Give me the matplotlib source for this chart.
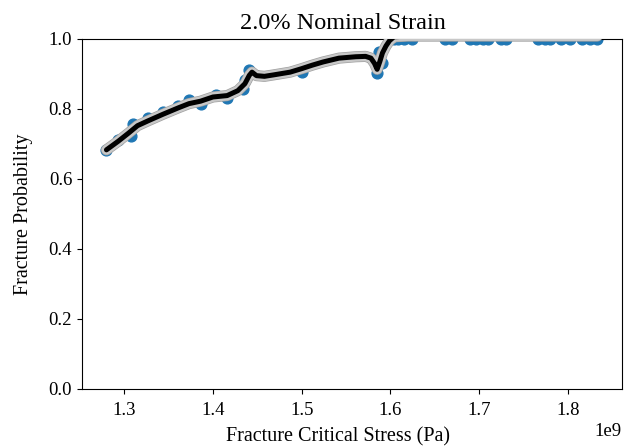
import matplotlib
matplotlib.use("Agg")
import matplotlib.pyplot as plt
import matplotlib.patheffects as pe
import numpy as np

plt.rcParams['font.family'] = ['Liberation Serif', 'DejaVu Serif']

title = "2.0% Nominal Strain"
xlabel = "Fracture Critical Stress (Pa)"
ylabel = "Fracture Probability"

# observed points (stress in GPa units, scaled by 1e9 below)
stress_pts = [1.280, 1.293, 1.308, 1.310, 1.327, 1.344, 1.361, 1.373, 1.386,
              1.403, 1.416, 1.434, 1.436, 1.441, 1.500, 1.585, 1.587, 1.590,
              1.604, 1.609, 1.615, 1.624, 1.662, 1.669, 1.690, 1.696, 1.704,
              1.710, 1.725, 1.730, 1.766, 1.774, 1.780, 1.792, 1.802, 1.816,
              1.825, 1.833]
prob_pts = [0.683, 0.711, 0.722, 0.758, 0.774, 0.791, 0.809, 0.824, 0.813,
            0.840, 0.831, 0.856, 0.883, 0.910, 0.904, 0.903, 0.963, 0.932,
            1.0, 1.0, 1.0, 1.0, 1.0, 1.0, 1.0, 1.0, 1.0,
            1.0, 1.0, 1.0, 1.0, 1.0, 1.0, 1.0, 1.0, 1.0,
            1.0, 1.0]

# fitted curve
fit_x = [1.280, 1.293, 1.305, 1.315, 1.327, 1.344, 1.361, 1.373, 1.386, 1.400,
         1.416, 1.428, 1.436, 1.441, 1.444, 1.449, 1.458, 1.468, 1.487, 1.500,
         1.512, 1.524, 1.542, 1.561, 1.572, 1.578, 1.582, 1.585, 1.588, 1.591,
         1.595, 1.599, 1.604, 1.620, 1.700, 1.780, 1.833]
fit_y = [0.683, 0.707, 0.731, 0.752, 0.766, 0.785, 0.803, 0.815, 0.822, 0.834,
         0.838, 0.852, 0.872, 0.896, 0.905, 0.895, 0.893, 0.897, 0.905, 0.915,
         0.925, 0.934, 0.945, 0.949, 0.950, 0.945, 0.930, 0.913, 0.935, 0.960,
         0.980, 0.995, 1.006, 1.008, 1.008, 1.008, 1.008]

scale = 1e9
fig = plt.figure(figsize=(6.3, 4.47), dpi=100)
ax = fig.add_axes([0.130, 0.130, 0.857, 0.783])

xs = np.array(stress_pts) * scale
fx = np.array(fit_x) * scale
ax.scatter(xs, prob_pts, s=60, color='#1f77b4', zorder=2)
ax.plot(fx, fit_y, color='#c8c8c8', lw=7, solid_capstyle='round', zorder=3,
        path_effects=[pe.Stroke(linewidth=8, foreground='#a0a0a0'), pe.Normal()])
ax.plot(fx, fit_y, color='black', lw=3.6, solid_capstyle='round', zorder=4)

ax.set_ylim(0, 1.0)
ax.set_xticks(np.array([1.3, 1.4, 1.5, 1.6, 1.7, 1.8]) * scale)
ax.tick_params(labelsize=13.5)
ax.tick_params(axis='x', pad=6)
ax.xaxis.get_offset_text().set_fontsize(13.5)
ax.set_title(title, fontsize=17.5, pad=7, x=0.483)
ax.set_xlabel(xlabel, fontsize=14.5, labelpad=5)
ax.xaxis.set_label_coords(0.474, -0.11)
ax.set_ylabel(ylabel, fontsize=14.5, labelpad=11)

fig.savefig("out.png", dpi=100)
